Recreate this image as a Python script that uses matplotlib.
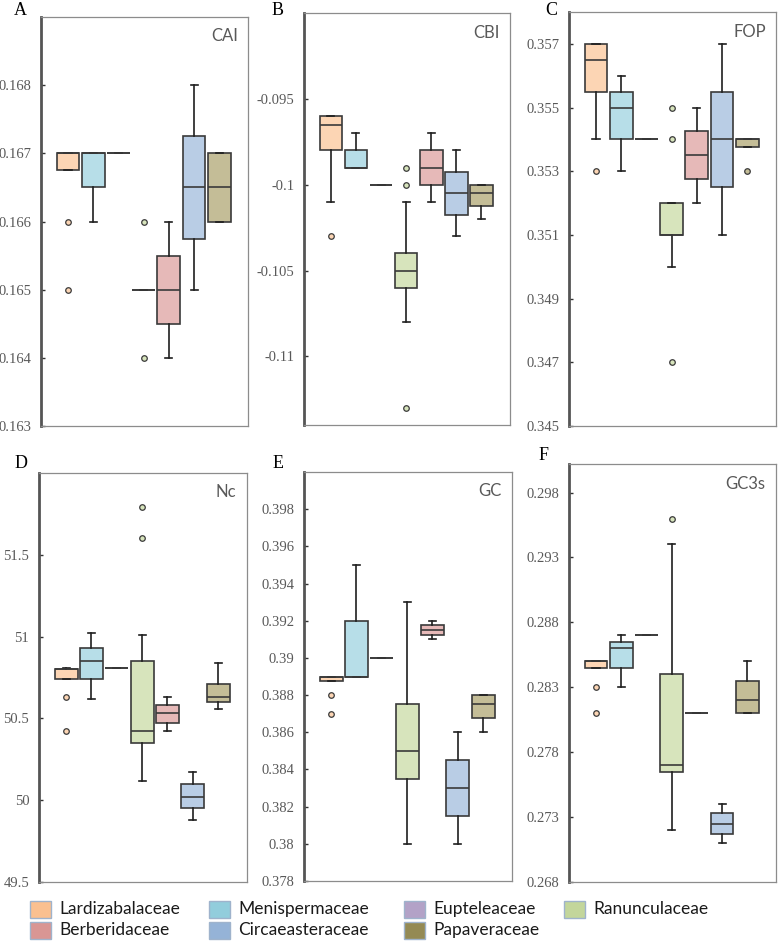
import matplotlib
matplotlib.use("Agg")
import matplotlib.pyplot as plt
from matplotlib.patches import Rectangle

# families, in plotting order
families = ["Lardizabalaceae", "Menispermaceae", "Eupteleaceae", "Ranunculaceae",
            "Berberidaceae", "Circaeasteraceae", "Papaveraceae"]
legend_colors = ["#FAC090", "#92CDDC", "#B3A2C7", "#C3D69B", "#D99694", "#95B3D7", "#948A54"]
box_colors = ["#FCD5B4", "#B7DEE8", "#CCC1DA", "#D7E4BC", "#E6B9B8", "#B9CDE5", "#C4BD97"]

# box stats per family: (whislo, q1, med, q3, whishi)
cai_stats = [(0.16675, 0.16675, 0.167, 0.167, 0.167), (0.166, 0.1665, 0.167, 0.167, 0.167),
             (0.167, 0.167, 0.167, 0.167, 0.167), (0.165, 0.165, 0.165, 0.165, 0.165),
             (0.164, 0.1645, 0.165, 0.1655, 0.166), (0.165, 0.16575, 0.1665, 0.16725, 0.168),
             (0.166, 0.166, 0.1665, 0.167, 0.167)]
cai_fliers = [[0.166, 0.165], [], [], [0.166, 0.164], [], [], []]

cbi_stats = [(-0.101, -0.098, -0.0965, -0.096, -0.096), (-0.099, -0.099, -0.099, -0.098, -0.097),
             (-0.1, -0.1, -0.1, -0.1, -0.1), (-0.108, -0.106, -0.105, -0.104, -0.101),
             (-0.101, -0.1, -0.099, -0.098, -0.097), (-0.103, -0.10175, -0.1005, -0.09925, -0.098),
             (-0.102, -0.10125, -0.1005, -0.1, -0.1)]
cbi_fliers = [[-0.103], [], [], [-0.099, -0.1, -0.113], [], [], []]

fop_stats = [(0.354, 0.3555, 0.3565, 0.357, 0.357), (0.353, 0.354, 0.355, 0.3555, 0.356),
             (0.354, 0.354, 0.354, 0.354, 0.354), (0.350, 0.351, 0.351, 0.352, 0.352),
             (0.352, 0.35275, 0.3535, 0.35425, 0.355), (0.351, 0.3525, 0.354, 0.3555, 0.357),
             (0.35375, 0.35375, 0.354, 0.354, 0.354)]
fop_fliers = [[0.353], [], [], [0.355, 0.354, 0.347], [], [], [0.353]]

nc_stats = [(50.74, 50.74, 50.80, 50.80, 50.81), (50.62, 50.74, 50.85, 50.93, 51.02),
            (50.81, 50.81, 50.81, 50.81, 50.81), (50.12, 50.35, 50.42, 50.85, 51.01),
            (50.42, 50.47, 50.53, 50.58, 50.63), (49.88, 49.95, 50.02, 50.10, 50.17),
            (50.56, 50.60, 50.63, 50.71, 50.84)]
nc_fliers = [[50.63, 50.42], [], [], [51.79, 51.60], [], [], []]

gc_stats = [(0.38875, 0.38875, 0.389, 0.389, 0.389), (0.389, 0.389, 0.389, 0.392, 0.395),
            (0.390, 0.390, 0.390, 0.390, 0.390), (0.380, 0.3835, 0.385, 0.3875, 0.393),
            (0.391, 0.39125, 0.3915, 0.39175, 0.392), (0.380, 0.3815, 0.383, 0.3845, 0.386),
            (0.386, 0.38675, 0.3875, 0.388, 0.388)]
gc_fliers = [[0.388, 0.387], [], [], [], [], [], []]

gc3s_stats = [(0.2845, 0.2845, 0.285, 0.285, 0.285), (0.283, 0.2845, 0.286, 0.2865, 0.287),
              (0.287, 0.287, 0.287, 0.287, 0.287), (0.272, 0.2765, 0.277, 0.284, 0.294),
              (0.281, 0.281, 0.281, 0.281, 0.281), (0.271, 0.2717, 0.2725, 0.2733, 0.274),
              (0.281, 0.281, 0.282, 0.2835, 0.285)]
gc3s_fliers = [[0.283, 0.281], [], [], [0.296], [], [], []]

# y ticks and limits
cai_ticks = [0.163, 0.164, 0.165, 0.166, 0.167, 0.168]
cai_labels = ["0.163", "0.164", "0.165", "0.166", "0.167", "0.168"]
cbi_ticks = [-0.11, -0.105, -0.1, -0.095]
cbi_labels = ["-0.11", "-0.105", "-0.1", "-0.095"]
fop_ticks = [0.345, 0.347, 0.349, 0.351, 0.353, 0.355, 0.357]
fop_labels = ["0.345", "0.347", "0.349", "0.351", "0.353", "0.355", "0.357"]
nc_ticks = [49.5, 50, 50.5, 51, 51.5]
nc_labels = ["49.5", "50", "50.5", "51", "51.5"]
gc_ticks = [0.378, 0.38, 0.382, 0.384, 0.386, 0.388, 0.39, 0.392, 0.394, 0.396, 0.398]
gc_labels = ["0.378", "0.38", "0.382", "0.384", "0.386", "0.388", "0.39", "0.392",
             "0.394", "0.396", "0.398"]
gc3s_ticks = [0.268, 0.273, 0.278, 0.283, 0.288, 0.293, 0.298]
gc3s_labels = ["0.268", "0.273", "0.278", "0.283", "0.288", "0.293", "0.298"]

W, H = 778, 942
fig = plt.figure(figsize=(W / 100, H / 100), dpi=100)
fig.patch.set_facecolor("white")


def px_axes(l, t, r, b):
    return fig.add_axes([l / W, 1 - b / H, (r - l) / W, (b - t) / H])


# letter, name, axes box (px), letter pos (px), ylim, data, ticks
panels = [
    ("A", "CAI", (41, 17, 248, 426), (20, 15), (0.163, 0.169),
     cai_stats, cai_fliers, cai_ticks, cai_labels),
    ("B", "CBI", (304, 13, 510, 425), (278, 15), (-0.114, -0.090),
     cbi_stats, cbi_fliers, cbi_ticks, cbi_labels),
    ("C", "FOP", (569, 12, 776, 426), (551, 15), (0.345, 0.358),
     fop_stats, fop_fliers, fop_ticks, fop_labels),
    ("D", "Nc", (39, 473, 247, 882), (21, 468), (49.5, 52.0),
     nc_stats, nc_fliers, nc_ticks, nc_labels),
    ("E", "GC", (304, 472, 512, 881), (278, 468), (0.378, 0.400),
     gc_stats, gc_fliers, gc_ticks, gc_labels),
    ("F", "GC3s", (569, 464, 776, 882), (544, 460), (0.268, 0.3002),
     gc3s_stats, gc3s_fliers, gc3s_ticks, gc3s_labels),
]

edge = "#3a3a3a"
serif = ["Liberation Serif", "DejaVu Serif"]

for letter, name, rect, lpos, ylim, stats, fliers, ticks, labels in panels:
    ax = px_axes(*rect)
    for i, (lo, q1, med, q3, hi) in enumerate(stats):
        st = dict(whislo=lo, q1=q1, med=med, q3=q3, whishi=hi, fliers=fliers[i])
        ax.bxp([st], positions=[i + 1], widths=0.9, capwidths=0.28, patch_artist=True,
               boxprops=dict(facecolor=box_colors[i], edgecolor=edge, linewidth=1.2),
               medianprops=dict(color=edge, linewidth=1.2),
               whiskerprops=dict(color="#1f1f1f", linewidth=1.2),
               capprops=dict(color="#1f1f1f", linewidth=1.2),
               flierprops=dict(marker="o", markersize=4, markerfacecolor=box_colors[i],
                               markeredgecolor=edge, markeredgewidth=0.9))
    ax.set_xlim(-0.07, 8.14)
    ax.set_ylim(*ylim)
    ax.set_xticks([])
    ax.set_yticks(ticks)
    ax.set_yticklabels(labels, family=serif, fontsize=10.5, color="#595959")
    ax.tick_params(axis="y", direction="in", length=3, width=1, color="#333333", pad=7)
    for s in ["top", "right", "bottom"]:
        ax.spines[s].set_color("#8c8c8c")
        ax.spines[s].set_linewidth(0.9)
    ax.spines["left"].set_color("#555555")
    ax.spines["left"].set_linewidth(2)
    ax.text(0.95, 0.972, name, transform=ax.transAxes, ha="right", va="top",
            fontsize=12, color="#595959", family=["Lato", "DejaVu Sans"])
    fig.text(lpos[0] / W, 1 - lpos[1] / H, letter, ha="center", va="baseline",
             fontsize=13, family=serif, color="black")

# legend
col_x = [30, 209, 404, 564]
row_y = [909, 930]
for i, fam in enumerate(families):
    x = col_x[i % 4]
    y = row_y[i // 4]
    fig.add_artist(Rectangle((x / W, 1 - (y + 8.5) / H), 21 / W, 17 / H,
                             transform=fig.transFigure, facecolor=legend_colors[i],
                             edgecolor="#9fb3cc", linewidth=1))
    fig.text((x + 29) / W, 1 - y / H, fam, ha="left", va="center", fontsize=12.5,
             family=["Lato", "DejaVu Sans"], color="#1a1a1a")

fig.savefig("out.png", dpi=100)
